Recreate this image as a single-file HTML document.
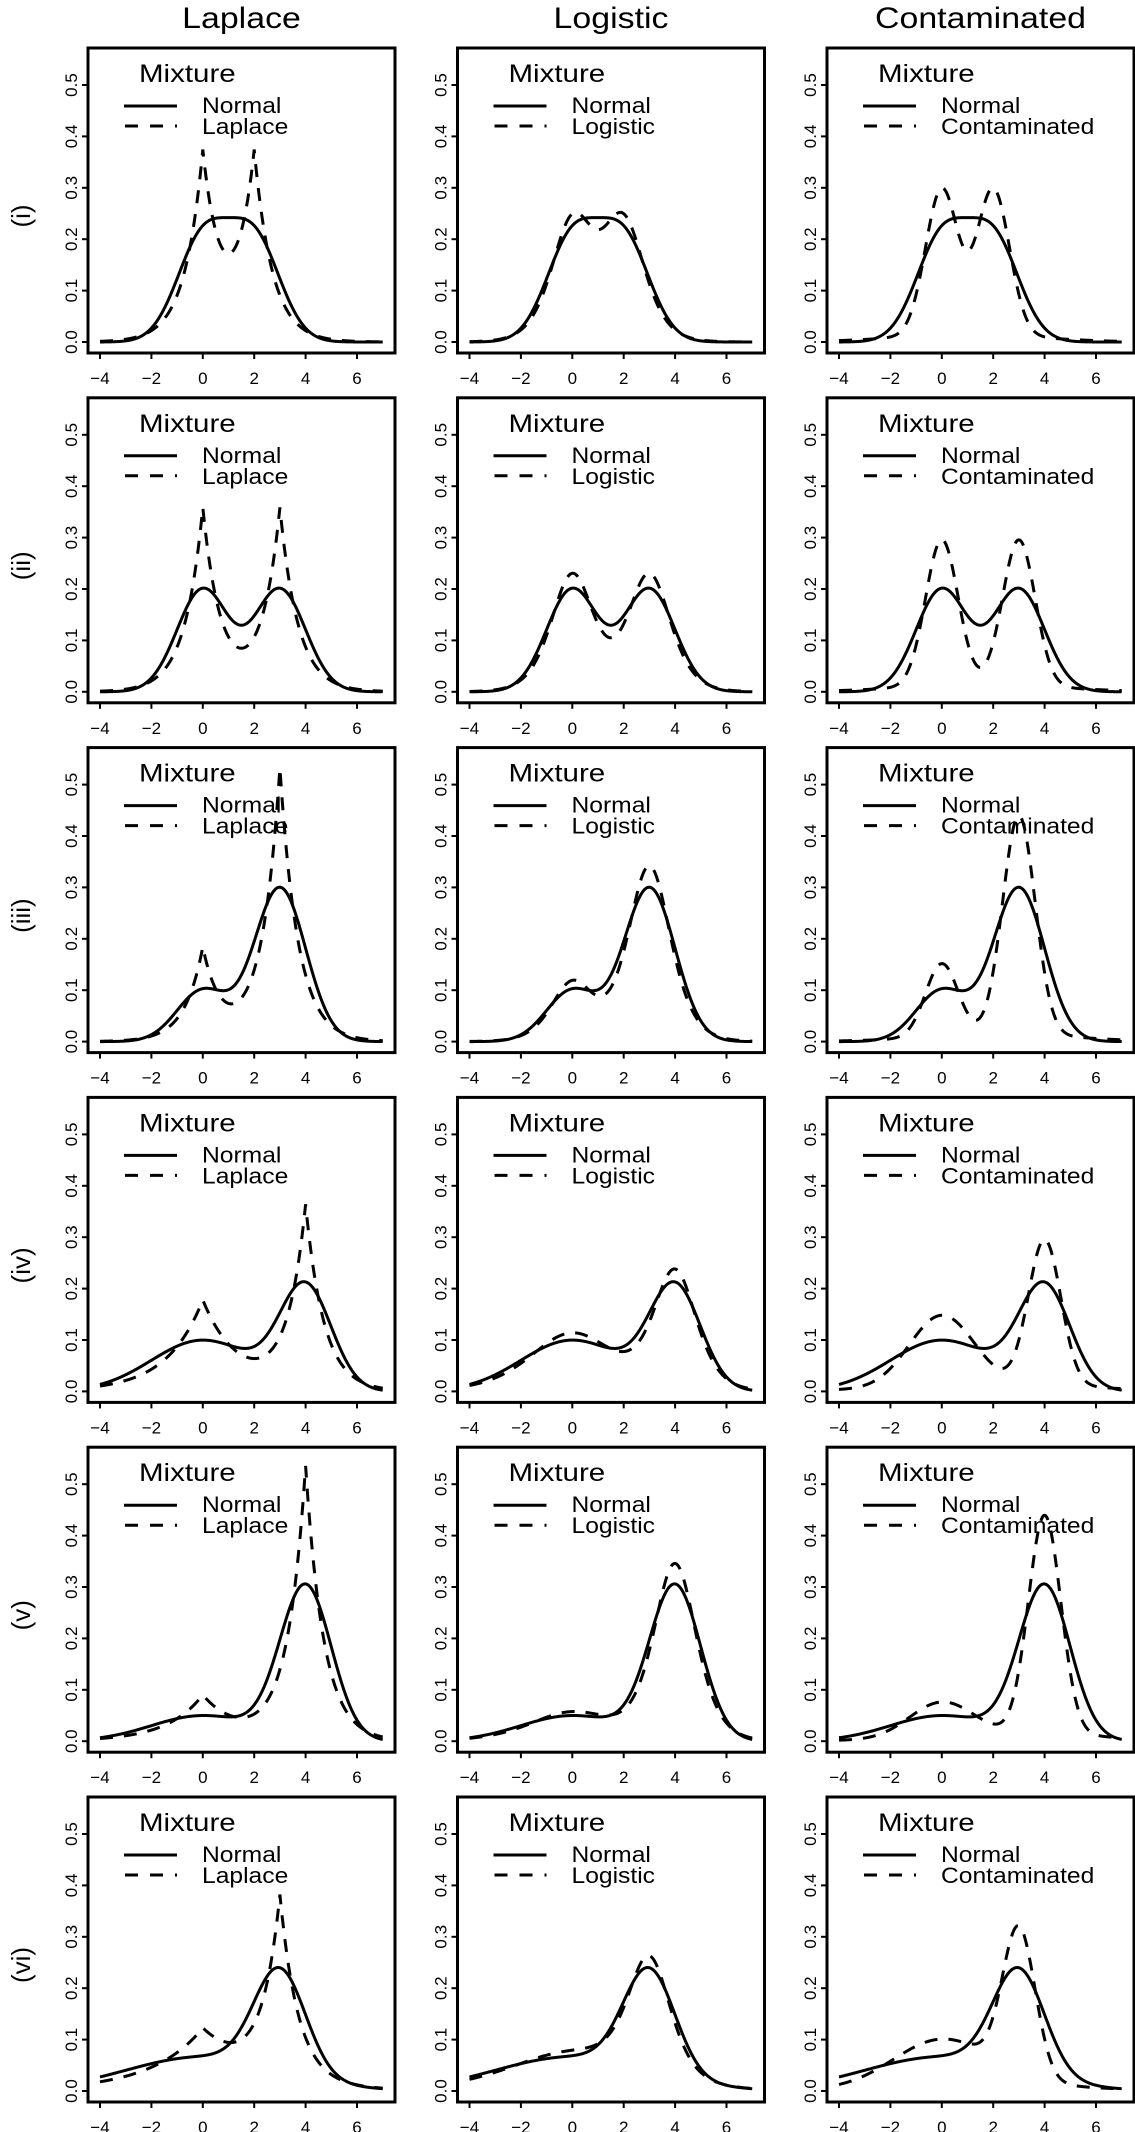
<!DOCTYPE html>
<html><head><meta charset="utf-8"><style>
html,body{margin:0;padding:0;background:#fff;}
svg{display:block;font-family:"Liberation Sans",Arial,sans-serif;}
</style></head><body>
<svg id="s" width="1135" height="2132" viewBox="0 0 1135 2132" xmlns="http://www.w3.org/2000/svg"></svg>
<script>
const S=document.getElementById('s');
let out='';
const SQ2PI=Math.sqrt(2*Math.PI);
function nrm(x,m,s){return Math.exp(-0.5*((x-m)/s)**2)/(s*SQ2PI);}
function lap(x,m,s){const b=s/Math.SQRT2;return Math.exp(-Math.abs(x-m)/b)/(2*b);}
function lgs(x,m,s){const c=s*Math.sqrt(3)/Math.PI;const z=Math.exp(-(x-m)/c);return z/(c*(1+z)**2);}
const eps=0.1,k=4,s0=1/Math.sqrt(0.9+0.1*k*k);
function con(x,m,s){const a=s*s0;return (1-eps)*nrm(x,m,a)+eps*nrm(x,m,a*k);}
function txt(x,y,size,str,anchor,sx){
 return `<text transform="translate(${x},${y}) scale(${sx||1.15},1)" font-size="${size}" text-anchor="${anchor||'start'}">${str}</text>`;
}
const mixes=[
 [[0.5,0,1],[0.5,2,1]],
 [[0.5,0,1],[0.5,3,1]],
 [[0.25,0,1],[0.75,3,1]],
 [[0.5,0,2],[0.5,4,1]],
 [[0.25,0,2],[0.75,4,1]],
 [[0.5,0,3],[0.5,3,1]]
];
const fams=[lap,lgs,con];
const names=['Laplace','Logistic','Contaminated'];
const rows=['(i)','(ii)','(iii)','(iv)','(v)','(vi)'];
const colL=[88,457.5,827], W=307, H=305;
for(let c=0;c<3;c++){
 out+=txt(colL[c]+W/2,28,30,names[c],'middle',1.13);
}
for(let r=0;r<6;r++){
 const T=48+r*349.8;
 out+=`<text transform="translate(30,${T+168}) rotate(-90)" font-size="26" text-anchor="middle">${rows[r]}</text>`;
 for(let c=0;c<3;c++){
  const L=colL[c];
  const X=x=>L+12+(x+4)*25.7, Y=y=>T+294-y*514;
  let pn='',pd='';
  for(let i=0;i<=660;i++){
   const x=-4+11*i/660;
   let yn=0,yd=0;
   for(const [w,m,s] of mixes[r]){yn+=w*nrm(x,m,s);yd+=w*fams[c](x,m,s);}
   pn+=(i?'L':'M')+X(x).toFixed(2)+' '+Y(yn).toFixed(2);
   pd+=(i?'L':'M')+X(x).toFixed(2)+' '+Y(yd).toFixed(2);
  }
  out+=`<path d="${pd}" fill="none" stroke="#000" stroke-width="3" stroke-dasharray="13 11"/>`;
  out+=`<path d="${pn}" fill="none" stroke="#000" stroke-width="3"/>`;
  out+=`<rect x="${L}" y="${T}" width="${W}" height="${H}" fill="none" stroke="#000" stroke-width="3"/>`;
  for(let v=-4;v<=6;v+=2){
   const xx=X(v);
   out+=`<line x1="${xx}" y1="${T+H}" x2="${xx}" y2="${T+H+6}" stroke="#000" stroke-width="2"/>`;
   out+=`<text x="${xx}" y="${T+H+31}" font-size="17" text-anchor="middle">${v<0?'\u2212'+(-v):v}</text>`;
  }
  for(let j=0;j<=5;j++){
   const yy=Y(j/10);
   out+=`<line x1="${L}" y1="${yy}" x2="${L-6}" y2="${yy}" stroke="#000" stroke-width="2"/>`;
   out+=`<text transform="translate(${L-11},${yy}) rotate(-90)" font-size="17" text-anchor="middle">${(j/10).toFixed(1)}</text>`;
  }
  out+=txt(L+51,T+34,25,'Mixture','start',1.18);
  out+=`<line x1="${L+36}" y1="${T+58}" x2="${L+89}" y2="${T+58}" stroke="#000" stroke-width="3"/>`;
  out+=`<line x1="${L+37}" y1="${T+78}" x2="${L+89}" y2="${T+78}" stroke="#000" stroke-width="3" stroke-dasharray="13 12"/>`;
  out+=txt(L+114,T+65,22,'Normal','start',1.12);
  out+=txt(L+114,T+86,22,names[c],'start',1.12);
 }
}
S.innerHTML=out;
</script>
</body></html>
